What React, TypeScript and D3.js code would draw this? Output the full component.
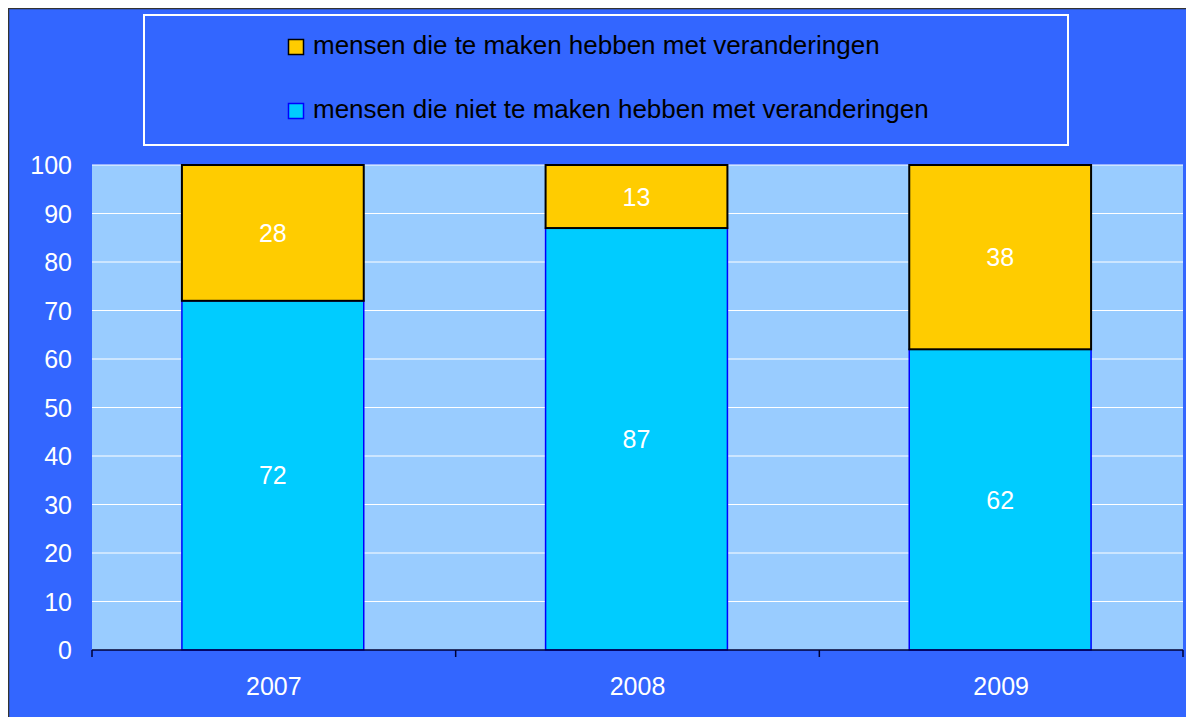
import * as React from "react";
import * as d3 from "d3";

const years = ["2007", "2008", "2009"];
const nietValues = [72, 87, 62];
const welValues = [28, 13, 38];
const yTicks = [0, 10, 20, 30, 40, 50, 60, 70, 80, 90, 100];
const legendLabels = [
  "mensen die te maken hebben met veranderingen",
  "mensen die niet te maken hebben met veranderingen",
];

const App = () => {
  const width = 1186;
  const height = 709;
  // plot area in svg coords (svg sits at 8,8)
  const left = 84;
  const right = 1175;
  const top = 157;
  const bottom = 642;

  const x = d3.scaleBand().domain(years).range([left - 1, right - 1]).paddingInner(0.5).paddingOuter(0.25);
  const y = d3.scaleLinear().domain([0, 100]).range([bottom, top]);
  const font = "Liberation Sans, Arial, sans-serif";
  const fs = 25;
  const step = (right - left) / years.length;

  return (
    <svg width={width} height={height} style={{ display: "block" }}>
      <rect x={0} y={0} width={width} height={height} fill="#3366FF" />
      <line x1={0.5} y1={0} x2={0.5} y2={height} stroke="#333" strokeWidth={1.5} />
      <line x1={0} y1={0.5} x2={width} y2={0.5} stroke="#333" strokeWidth={1.5} />

      {/* legend */}
      <rect x={136} y={7} width={924} height={130} fill="none" stroke="#fff" strokeWidth={2} />
      {legendLabels.map((label, i) => (
        <g key={label} transform={`translate(280,${31 + i * 64})`}>
          <rect
            x={0.5}
            y={0.5}
            width={15}
            height={15}
            fill={i === 0 ? "#FFCC00" : "#00CCFF"}
            stroke={i === 0 ? "#000" : "#0000FF"}
            strokeWidth={1.5}
          />
          <text x={25} y={15} fontFamily={font} fontSize={26} fill="#000">
            {label}
          </text>
        </g>
      ))}

      {/* plot area */}
      <rect x={left} y={top} width={right - left} height={bottom - top} fill="#99CCFF" />
      {yTicks.slice(1).map((t) => (
        <line key={t} x1={left} x2={right} y1={y(t)} y2={y(t)} stroke="#fff" strokeWidth={1} />
      ))}

      {years.map((yr, i) => {
        const bx = x(yr)!;
        const bw = x.bandwidth();
        return (
          <g key={yr}>
            <rect
              x={bx}
              y={y(nietValues[i])}
              width={bw}
              height={y(0) - y(nietValues[i])}
              fill="#00CCFF"
              stroke="#0000FF"
              strokeWidth={1.5}
            />
            <rect
              x={bx}
              y={y(nietValues[i] + welValues[i])}
              width={bw}
              height={y(nietValues[i]) - y(nietValues[i] + welValues[i])}
              fill="#FFCC00"
              stroke="#000"
              strokeWidth={2}
            />
            <text
              x={bx + bw / 2}
              y={y(nietValues[i] / 2) + 9}
              textAnchor="middle"
              fontFamily={font}
              fontSize={fs}
              fill="#fff"
            >
              {nietValues[i]}
            </text>
            <text
              x={bx + bw / 2}
              y={y(nietValues[i] + welValues[i] / 2) + 9}
              textAnchor="middle"
              fontFamily={font}
              fontSize={fs}
              fill="#fff"
            >
              {welValues[i]}
            </text>
            <text
              x={left + step * (i + 0.5)}
              y={687}
              textAnchor="middle"
              fontFamily={font}
              fontSize={fs}
              fill="#fff"
            >
              {yr}
            </text>
          </g>
        );
      })}

      {/* x axis */}
      <line x1={left} x2={right} y1={bottom} y2={bottom} stroke="#000033" strokeWidth={1.5} />
      {d3.range(years.length + 1).map((k) => (
        <line
          key={k}
          x1={left + step * k}
          x2={left + step * k}
          y1={bottom}
          y2={bottom + 7}
          stroke="#000033"
          strokeWidth={1.5}
        />
      ))}

      {/* y labels */}
      {yTicks.map((t) => (
        <text
          key={t}
          x={64}
          y={y(t) + 9}
          textAnchor="end"
          fontFamily={font}
          fontSize={fs}
          fill="#fff"
        >
          {t}
        </text>
      ))}
    </svg>
  );
};

export default App;
